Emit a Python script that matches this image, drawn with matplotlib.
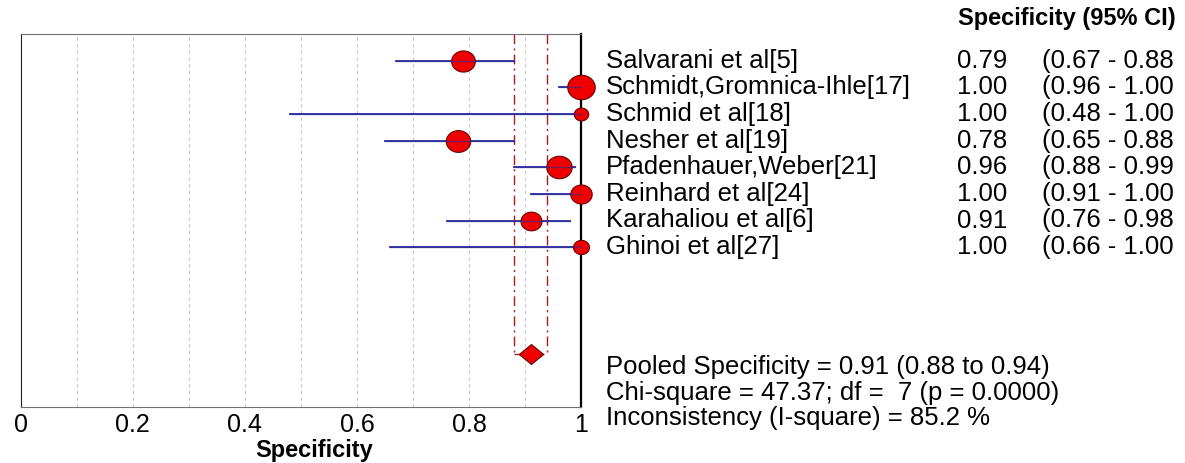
import numpy as np
import matplotlib
matplotlib.use("Agg")
import matplotlib.pyplot as plt
from matplotlib.path import Path
import matplotlib.transforms as mtransforms

plt.rcParams['font.family'] = ['Liberation Sans', 'DejaVu Sans']

studies = ["Salvarani et al[5]", "Schmidt,Gromnica-Ihle[17]", "Schmid et al[18]",
           "Nesher et al[19]", "Pfadenhauer,Weber[21]", "Reinhard et al[24]",
           "Karahaliou et al[6]", "Ghinoi et al[27]"]
spec = [0.79, 1.00, 1.00, 0.78, 0.96, 1.00, 0.91, 1.00]
ci_low = [0.67, 0.96, 0.48, 0.65, 0.88, 0.91, 0.76, 0.66]
ci_high = [0.88, 1.00, 1.00, 0.88, 0.99, 1.00, 0.98, 1.00]
weight_pt = [17.1, 19.8, 10.4, 17.6, 18.2, 15.4, 15.1, 11.5]
pooled = 0.91
pooled_low = 0.88
pooled_high = 0.94
stats_lines = ["Pooled Specificity = 0.91 (0.88 to 0.94)",
               "Chi-square = 47.37; df =  7 (p = 0.0000)",
               "Inconsistency (I-square) = 85.2 %"]
xticks = [0, 0.2, 0.4, 0.6, 0.8, 1.0]
xticklabels = ["0", "0.2", "0.4", "0.6", "0.8", "1"]

W, H = 1185, 463
fig = plt.figure(figsize=(W / 100, H / 100), dpi=100)
ax = fig.add_axes([20.7 / W, 1 - 407 / H, (581 - 20.7) / W, (407 - 34) / H])
ax.set_xlim(0, 1)
ax.set_ylim(14, 0)

# grid
for g in np.arange(0.1, 1.0, 0.1):
    ax.axvline(g, color='#c8c8c8', lw=0.8, ls=(0, (3, 3)), zorder=0)

# slightly wide marker shapes, as in the reference
t = np.linspace(0, 2 * np.pi, 60)
ell = Path(np.column_stack([np.cos(t), 0.89 * np.sin(t)]), closed=True)
dia = Path([(-1, 0), (0, 0.82), (1, 0), (0, -0.82), (-1, 0)], closed=True)

rows = np.arange(1, len(studies) + 1)
pooled_row = 12

# pooled CI dashed lines
red_dash = dict(color='#a81c1c', lw=1.0, ls=(0, (7, 3, 1.5, 3)), zorder=1)
ax.plot([pooled_low, pooled_low], [0, pooled_row], **red_dash)
ax.plot([pooled_high, pooled_high], [0, pooled_row], **red_dash)
ax.plot([pooled_low, pooled_high], [pooled_row, pooled_row], **red_dash)

for r, s, lo, hi, w in zip(rows, spec, ci_low, ci_high, weight_pt):
    ax.plot([lo, hi], [r, r], color='#2a2a9c', lw=1.3, zorder=2, clip_on=False)
    ax.plot([s], [r], marker=ell, ms=w, mfc='#ee0000', mec='#6a0000', mew=0.8,
            zorder=3, clip_on=False)
    ax.plot([lo, hi], [r, r], color='#2a2a9c', lw=1.0, alpha=0.6, zorder=4, clip_on=False)

ax.plot([pooled], [pooled_row], marker=dia, ms=17.5, mfc='#ee0000', mec='#6a0000',
        mew=0.8, zorder=3, clip_on=False)

for side in ['top', 'bottom']:
    ax.spines[side].set_color('#707070')
ax.spines['left'].set_color('#222222')
ax.spines['right'].set_color('black')
ax.spines['right'].set_linewidth(1.6)
ax.spines['right'].set_zorder(2.5)
ax.set_yticks([])
ax.set_xticks(xticks)
ax.set_xticklabels(xticklabels, fontsize=18)
ax.tick_params(axis='x', length=0, pad=4)
ax.set_xlabel("Specificity", fontsize=17, fontweight='bold')
ax.xaxis.set_label_coords((314 - 20.7) / (581 - 20.7), -(450 - 407) / (407 - 34))
ax.xaxis.label.set_va('center')

trans = mtransforms.blended_transform_factory(fig.transFigure, ax.transData)
fs_name = 18.5
fs_num = 18.5
for r, name, s, lo, hi in zip(rows, studies, spec, ci_low, ci_high):
    ax.text(606 / W, r, name, transform=trans, fontsize=fs_name, va='center', ha='left', clip_on=False)
    ax.text(1007 / W, r, f"{s:.2f}", transform=trans, fontsize=fs_num, va='center', ha='right', clip_on=False)
    ax.text(1042 / W, r, f"({lo:.2f} - {hi:.2f}", transform=trans, fontsize=fs_num, va='center', ha='left', clip_on=False)

fig.text(1176 / W, 1 - 19 / H, "Specificity (95% CI)", fontsize=17, fontweight='bold', ha='right', va='center')

for i, line in enumerate(stats_lines):
    fig.text(606 / W, 1 - (367 + 25.7 * i) / H, line, fontsize=fs_name, ha='left', va='center')

fig.savefig("out.png", dpi=100)
